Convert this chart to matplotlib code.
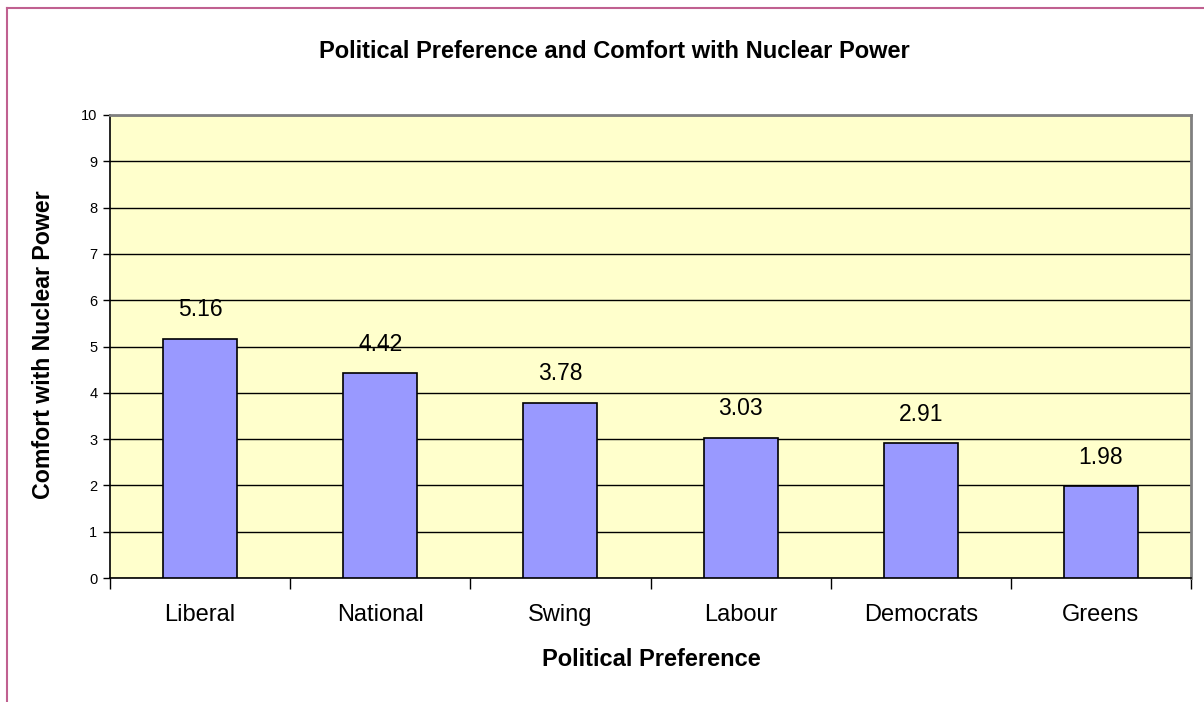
import matplotlib
matplotlib.use("Agg")
import matplotlib.pyplot as plt
from matplotlib.lines import Line2D

categories = ["Liberal", "National", "Swing", "Labour", "Democrats", "Greens"]
values = [5.16, 4.42, 3.78, 3.03, 2.91, 1.98]
yticks = list(range(0, 11))

plt.rcParams['font.family'] = ['Liberation Sans', 'DejaVu Sans']

W, H = 1204, 702
fig = plt.figure(figsize=(W / 100, H / 100), dpi=100)
fig.patch.set_facecolor("white")

# outer chart border (left and top visible)
border_col = "#C06090"
fig.add_artist(Line2D([7 / W, 7 / W], [0, 1 - 8 / H], transform=fig.transFigure, color=border_col, lw=1.5))
fig.add_artist(Line2D([7 / W, 1], [1 - 8 / H, 1 - 8 / H], transform=fig.transFigure, color=border_col, lw=1.5))

left, right, top, bottom = 110, 1191, 115, 578
ax = fig.add_axes([left / W, 1 - bottom / H, (right - left) / W, (bottom - top) / H])
ax.set_facecolor("#FFFFCC")

x = list(range(len(categories)))
ax.bar(x, values, width=0.41, color="#9999FF", edgecolor="black", linewidth=1.2, zorder=3)
for xi, v in zip(x, values):
    ax.annotate(f"{v:.2f}", (xi, v), xytext=(0, 21), textcoords="offset points",
                ha="center", va="center", fontsize=16.5)

ax.set_xlim(-0.5, len(categories) - 0.5)
ax.set_ylim(0, 10)
ax.set_yticks(yticks)
ax.set_yticklabels([str(t) for t in yticks], fontsize=10.5)
ax.yaxis.grid(True, color="black", lw=1, zorder=0)
ax.set_axisbelow(True)

ax.set_xticks(x)
ax.set_xticklabels(categories, fontsize=17)
ax.tick_params(axis="x", length=0, pad=19)
ax.set_xticks([i - 0.5 for i in range(len(categories) + 1)], minor=True)
ax.tick_params(axis="x", which="minor", length=8, width=1, color="black")
ax.tick_params(axis="y", length=5, width=1, pad=4)

for s in ["left", "bottom"]:
    ax.spines[s].set_color("black")
    ax.spines[s].set_linewidth(1.2)
for s in ["top", "right"]:
    ax.spines[s].set_color("#808080")
    ax.spines[s].set_linewidth(2)

fig.text(0.5 + 12 / W, 1 - 51 / H, "Political Preference and Comfort with Nuclear Power",
         ha="center", va="center", fontsize=17, fontweight="bold")
fig.text(651 / W, 1 - 659 / H, "Political Preference", ha="center", va="center",
         fontsize=17, fontweight="bold")
fig.text(44 / W, 1 - 345 / H, "Comfort with Nuclear Power", ha="center", va="center",
         rotation=90, fontsize=16.7, fontweight="bold")

fig.savefig("out.png", dpi=100)
